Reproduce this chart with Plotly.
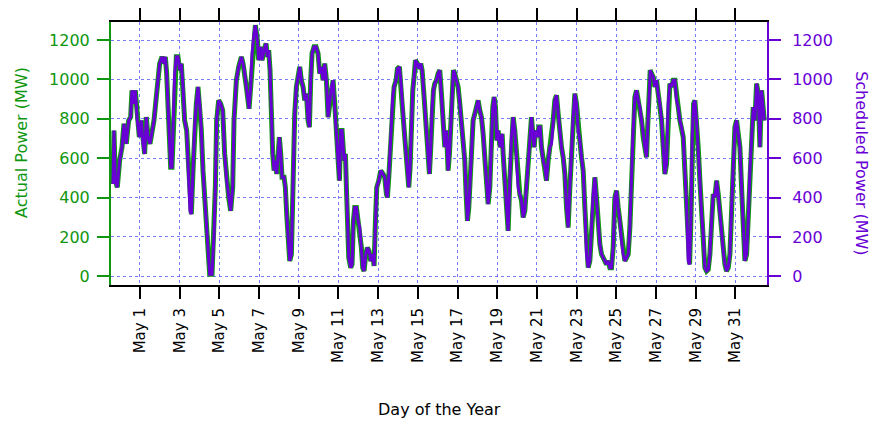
import plotly.graph_objects as go

# Time as days since May 1 00:00
day_offsets = [
    -1.361, -1.310, -1.243, -1.142, -1.025, -0.907, -0.806, -0.689, -0.571, -0.470,
    -0.403, -0.302, -0.235, -0.134, -0.034, 0.067, 0.151, 0.235, 0.319, 0.403,
    0.504, 0.605, 0.706, 0.823, 0.907, 0.991, 1.109, 1.210, 1.277, 1.344,
    1.445, 1.546, 1.613, 1.680, 1.747, 1.831, 1.915, 1.999, 2.083, 2.167,
    2.251, 2.352, 2.419, 2.520, 2.587, 2.671, 2.755, 2.839, 2.923, 3.007,
    3.091, 3.175, 3.259, 3.343, 3.427, 3.511, 3.629, 3.730, 3.797, 3.864,
    3.965, 4.066, 4.167, 4.267, 4.368, 4.469, 4.570, 4.671, 4.738, 4.856,
    4.973, 5.108, 5.192, 5.276, 5.360, 5.494, 5.578, 5.645, 5.746, 5.813,
    5.914, 5.981, 6.082, 6.149, 6.250, 6.351, 6.418, 6.485, 6.552, 6.620,
    6.687, 6.754, 6.821, 6.888, 6.956, 7.023, 7.090, 7.157, 7.258, 7.325,
    7.392, 7.460, 7.544, 7.628, 7.678, 7.728, 7.796, 7.880, 7.964, 8.048,
    8.132, 8.216, 8.300, 8.384, 8.468, 8.535, 8.602, 8.669, 8.770, 8.871,
    8.972, 9.056, 9.140, 9.224, 9.308, 9.392, 9.476, 9.560, 9.644, 9.728,
    9.812, 9.896, 9.980, 10.047, 10.114, 10.181, 10.282, 10.349, 10.400, 10.450,
    10.518, 10.618, 10.685, 10.753, 10.820, 10.904, 10.988, 11.072, 11.156, 11.223,
    11.290, 11.374, 11.458, 11.542, 11.626, 11.727, 11.794, 11.862, 11.929, 12.030,
    12.130, 12.248, 12.332, 12.416, 12.466, 12.534, 12.601, 12.668, 12.735, 12.802,
    12.903, 12.970, 13.071, 13.138, 13.206, 13.273, 13.340, 13.407, 13.474, 13.542,
    13.609, 13.676, 13.743, 13.810, 13.878, 13.978, 14.046, 14.146, 14.214, 14.315,
    14.382, 14.449, 14.516, 14.583, 14.651, 14.718, 14.785, 14.852, 14.936, 15.020,
    15.104, 15.188, 15.272, 15.356, 15.440, 15.524, 15.591, 15.659, 15.726, 15.793,
    15.860, 15.944, 16.028, 16.112, 16.196, 16.297, 16.364, 16.431, 16.499, 16.566,
    16.633, 16.700, 16.784, 16.868, 16.969, 17.036, 17.120, 17.204, 17.288, 17.372,
    17.456, 17.540, 17.624, 17.708, 17.776, 17.843, 17.910, 17.977, 18.044, 18.145,
    18.246, 18.296, 18.380, 18.464, 18.548, 18.632, 18.716, 18.800, 18.884, 18.968,
    19.052, 19.136, 19.220, 19.304, 19.388, 19.472, 19.556, 19.640, 19.724, 19.792,
    19.859, 19.926, 20.027, 20.094, 20.161, 20.228, 20.312, 20.397, 20.480, 20.565,
    20.649, 20.733, 20.817, 20.901, 20.985, 21.069, 21.153, 21.237, 21.321, 21.405,
    21.489, 21.573, 21.657, 21.741, 21.825, 21.909, 21.993, 22.077, 22.161, 22.245,
    22.329, 22.413, 22.497, 22.581, 22.665, 22.749, 22.833, 22.917, 23.001, 23.085,
    23.169, 23.253, 23.337, 23.421, 23.505, 23.589, 23.673, 23.757, 23.841, 23.925,
    24.009, 24.093, 24.177, 24.261, 24.345, 24.429, 24.513, 24.597, 24.681, 24.765,
    24.832, 24.933, 25.017, 25.101, 25.185, 25.269, 25.353, 25.437, 25.521, 25.571,
    25.638, 25.706, 25.773, 25.857, 25.941, 26.025, 26.109, 26.193, 26.277, 26.361,
    26.445, 26.529, 26.613, 26.697, 26.781, 26.865, 26.949, 27.033, 27.117, 27.201,
    27.285, 27.369, 27.453, 27.537, 27.621, 27.688, 27.755, 27.823, 27.890, 27.957,
    28.041, 28.125, 28.209, 28.293, 28.377, 28.461, 28.545, 28.629, 28.713, 28.797,
    28.881, 28.965, 29.049, 29.133, 29.217, 29.301, 29.385, 29.469, 29.553, 29.637,
    29.721, 29.805, 29.889, 29.973, 30.057, 30.141, 30.225, 30.309, 30.393, 30.477,
    30.561, 30.645, 30.729, 30.813, 30.897, 30.981, 31.065, 31.149, 31.233, 31.317,
    31.401, 31.452,
]

actual_mw = [
    469, 741, 486, 452, 588, 656, 775, 673, 792, 809,
    945, 877, 945, 792, 707, 792, 673, 622, 809, 707,
    673, 724, 792, 911, 996, 1081, 1115, 1081, 1115, 1030,
    792, 554, 554, 792, 1030, 1115, 1115, 1047, 1081, 962,
    792, 741, 588, 333, 316, 537, 758, 877, 962, 877,
    741, 537, 401, 282, 112, 10, 10, 214, 452, 792,
    894, 877, 843, 622, 486, 401, 333, 452, 792, 996,
    1064, 1115, 1081, 1030, 962, 851, 962, 1132, 1234, 1276,
    1200, 1098, 1166, 1098, 1149, 1183, 1115, 1149, 1047, 792,
    622, 537, 588, 520, 622, 707, 622, 503, 503, 452,
    316, 197, 78, 112, 367, 622, 826, 962, 1013, 1064,
    996, 962, 894, 928, 792, 758, 996, 1132, 1166, 1166,
    1132, 1030, 1064, 996, 1081, 996, 809, 877, 962, 996,
    877, 707, 588, 486, 741, 741, 588, 622, 452, 197,
    95, 44, 61, 282, 350, 350, 282, 248, 146, 44,
    27, 112, 146, 129, 78, 112, 53, 282, 452, 486,
    537, 520, 503, 418, 401, 503, 622, 792, 911, 962,
    996, 1055, 1064, 996, 877, 792, 707, 622, 537, 452,
    554, 792, 945, 1013, 1098, 1081, 1055, 1081, 1047, 911,
    809, 690, 588, 520, 656, 860, 945, 979, 996, 1030,
    1047, 928, 775, 656, 741, 537, 622, 792, 928, 1047,
    1030, 996, 962, 877, 792, 690, 588, 418, 282, 350,
    486, 656, 792, 826, 860, 894, 843, 809, 724, 588,
    452, 367, 452, 707, 860, 911, 860, 690, 741, 656,
    724, 622, 486, 350, 231, 486, 707, 809, 741, 605,
    452, 418, 384, 299, 333, 452, 571, 673, 809, 724,
    656, 741, 707, 758, 758, 656, 588, 554, 486, 588,
    656, 673, 792, 894, 920, 826, 724, 656, 605, 520,
    350, 248, 452, 656, 809, 928, 877, 741, 690, 605,
    537, 350, 112, 44, 78, 248, 418, 503, 401, 265,
    163, 112, 95, 78, 61, 78, 44, 44, 146, 401,
    435, 350, 282, 180, 112, 78, 95, 112, 248, 537,
    707, 911, 945, 894, 860, 792, 707, 656, 605, 741,
    962, 1047, 1030, 1013, 962, 996, 928, 877, 792, 656,
    520, 571, 877, 979, 962, 996, 996, 894, 860, 792,
    758, 707, 537, 367, 78, 61, 282, 707, 877, 894,
    792, 656, 486, 316, 214, 44, 27, 35, 112, 282,
    418, 401, 486, 418, 316, 214, 129, 61, 27, 44,
    112, 350, 588, 758, 792, 707, 656, 452, 214, 78,
    112, 282, 537, 707, 860, 792, 979, 928, 656, 945,
    843, 792,
]

# The scheduled trace is indistinguishable from the actual one at this
# resolution, so the same readings are used for it.
scheduled_mw = list(actual_mw)

tick_days = [0, 2, 4, 6, 8, 10, 12, 14, 16, 18, 20, 22, 24, 26, 28, 30]
tick_labels = ["May 1", "May 3", "May 5", "May 7", "May 9", "May 11", "May 13",
               "May 15", "May 17", "May 19", "May 21", "May 23", "May 25",
               "May 27", "May 29", "May 31"]
y_ticks = [0, 200, 400, 600, 800, 1000, 1200]

GREEN = "rgb(16,150,16)"
PURPLE = "rgb(104,0,214)"
GRID = "rgba(100,100,255,0.85)"
FONT = "DejaVu Sans"

fig = go.Figure()
fig.add_trace(go.Scatter(x=day_offsets, y=actual_mw, mode="lines",
                         line=dict(color=GREEN, width=5), name="Actual",
                         showlegend=False))
fig.add_trace(go.Scatter(x=day_offsets, y=scheduled_mw, mode="lines",
                         line=dict(color=PURPLE, width=3), name="Scheduled",
                         yaxis="y2", showlegend=False))

fig.update_layout(
    width=876, height=424,
    margin=dict(l=111, r=109, t=22, b=139, autoexpand=False),
    paper_bgcolor="white", plot_bgcolor="white",
    font=dict(family=FONT, size=16, color="black"),
    xaxis=dict(
        range=[-1.46, 31.59], tickmode="array", tickvals=tick_days,
        ticktext=tick_labels, tickangle=-90, tickfont=dict(size=15, color="black"),
        ticks="outside", ticklen=12, tickwidth=2, tickcolor="black",
        ticklabelstandoff=3,
        showline=True, linecolor="black", linewidth=2, mirror="allticks",
        showgrid=True, gridcolor=GRID, gridwidth=1, griddash="dot",
        zeroline=False, automargin=False,
    ),
    yaxis=dict(
        range=[-44, 1292], tickmode="array", tickvals=y_ticks,
        tickfont=dict(size=16, color=GREEN),
        ticks="outside", ticklen=12, tickwidth=2, tickcolor=GREEN,
        ticklabelstandoff=4,
        showline=True, linecolor=GREEN, linewidth=2,
        showgrid=True, gridcolor=GRID, gridwidth=1, griddash="dot",
        zeroline=False, automargin=False,
    ),
    yaxis2=dict(
        range=[-44, 1292], tickmode="array", tickvals=y_ticks,
        overlaying="y", side="right",
        tickfont=dict(size=16, color=PURPLE),
        ticks="outside", ticklen=12, tickwidth=2, tickcolor=PURPLE,
        ticklabelstandoff=8,
        showline=True, linecolor=PURPLE, linewidth=2,
        showgrid=False, zeroline=False, automargin=False,
    ),
    annotations=[
        dict(text="Actual Power (MW)", xref="paper", yref="paper",
             x=-0.1357, y=0.544, xanchor="center", yanchor="middle",
             textangle=-90, showarrow=False,
             font=dict(family=FONT, size=16, color=GREEN)),
        dict(text="Scheduled Power (MW)", xref="paper", yref="paper",
             x=1.143, y=0.464, xanchor="center", yanchor="middle",
             textangle=90, showarrow=False,
             font=dict(family=FONT, size=16, color=PURPLE)),
        dict(text="Day of the Year", xref="paper", yref="paper",
             x=0.5015, y=-0.475, xanchor="center", yanchor="middle",
             showarrow=False, font=dict(family=FONT, size=16, color="black")),
    ],
)

# Remove the browser's default 8px body margin so the figure fills the window.
fig.write_html(
    "out.html",
    config={"displayModeBar": False},
    post_script="document.body.style.margin='0';document.body.style.overflow='hidden';",
)
